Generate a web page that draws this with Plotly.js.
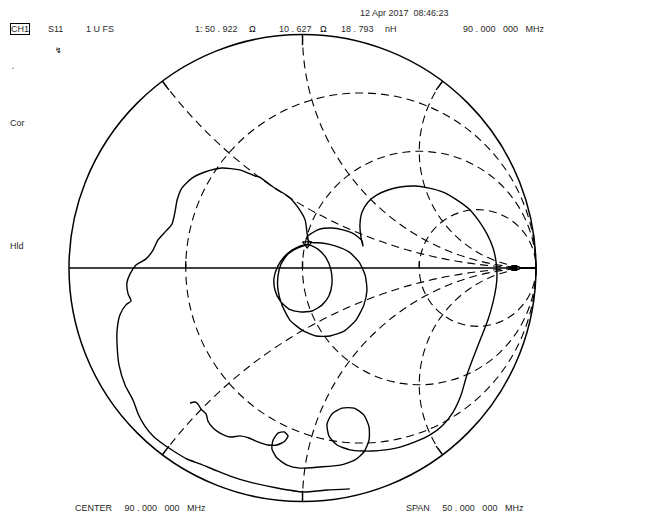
<!DOCTYPE html>
<html>
<head>
<meta charset="utf-8">
<script src="https://cdn.plot.ly/plotly-3.0.1.min.js"></script>
<style>html,body{margin:0;padding:0;background:#fff;}#chart{width:662px;height:514px;}</style>
</head>
<body>
<div id="chart"></div>
<script>
// Reflection coefficient (Gamma) readings of the S11 sweep, in chart order
var gammaRe = [0.203,0.105,0.002,-0.109,-0.225,-0.310,-0.366,-0.439,-0.495,-0.546,-0.597,-0.640,-0.675,-0.704,-0.726,-0.760,-0.786,-0.794,-0.794,-0.782,-0.756,-0.734,-0.747,-0.752,-0.739,-0.713,-0.670,-0.640,-0.619,-0.585,-0.559,-0.546,-0.537,-0.516,-0.473,-0.418,-0.345,-0.268,-0.203,-0.186,-0.126,-0.058,-0.015,0.011,0.019,0.024,
 -0.011,-0.045,-0.079,-0.105,-0.122,-0.118,-0.096,-0.058,-0.011,0.041,0.084,0.113,0.126,0.122,0.101,0.066,0.028,
 -0.019,-0.062,-0.092,-0.105,-0.105,-0.088,-0.054,-0.002,0.058,0.118,0.178,0.229,0.263,0.276,0.268,0.242,0.199,0.143,0.084,0.032,0.019,
 0.041,0.075,0.126,0.173,0.212,0.238,0.255,0.259,
 0.251,0.246,0.255,0.281,0.319,0.366,0.418,0.482,0.537,0.602,0.662,0.713,0.756,0.790,0.816,0.829,0.833,0.829,0.816,0.794,0.764,0.734,0.704,0.679,0.645,0.602,0.546,0.482,0.418,0.353,0.298,
 0.259,0.203,0.148,0.113,0.105,0.126,0.169,0.221,0.263,0.285,0.285,0.263,0.225,0.161,0.075,-0.011,-0.066,-0.109,-0.131,-0.126,-0.105,-0.079,-0.062,-0.075,-0.109,-0.148,-0.191,-0.229,-0.268,-0.310,-0.353,-0.383,-0.405,-0.413,-0.435,-0.448,-0.460,-0.482];
var gammaIm = [-0.946,-0.951,-0.959,-0.942,-0.917,-0.891,-0.869,-0.839,-0.818,-0.788,-0.754,-0.719,-0.677,-0.625,-0.565,-0.501,-0.415,-0.330,-0.266,-0.201,-0.158,-0.141,-0.111,-0.064,-0.026,0.013,0.039,0.077,0.120,0.158,0.188,0.240,0.291,0.343,0.385,0.411,0.428,0.420,0.394,0.390,0.347,0.304,0.253,0.206,0.154,0.103,
 0.094,0.077,0.047,0.009,-0.043,-0.094,-0.141,-0.176,-0.188,-0.184,-0.158,-0.120,-0.069,-0.009,0.043,0.081,0.099,
 0.086,0.060,0.017,-0.034,-0.094,-0.158,-0.223,-0.266,-0.291,-0.291,-0.270,-0.223,-0.158,-0.094,-0.030,0.026,0.069,0.094,0.107,0.111,0.133,
 0.150,0.167,0.171,0.163,0.150,0.133,0.116,0.094,
 0.128,0.184,0.240,0.283,0.313,0.334,0.347,0.351,0.343,0.325,0.291,0.253,0.201,0.146,0.086,0.026,-0.030,-0.081,-0.146,-0.223,-0.300,-0.377,-0.458,-0.544,-0.617,-0.672,-0.715,-0.745,-0.767,-0.779,-0.784,
 -0.784,-0.779,-0.758,-0.719,-0.668,-0.625,-0.600,-0.600,-0.630,-0.681,-0.737,-0.788,-0.822,-0.844,-0.852,-0.857,-0.844,-0.814,-0.775,-0.737,-0.707,-0.702,-0.719,-0.741,-0.758,-0.758,-0.745,-0.728,-0.719,-0.724,-0.707,-0.685,-0.655,-0.625,-0.604,-0.582,-0.574,-0.578];

// Marker 1 readout: 50.922 ohm + j10.627 ohm (Z0 = 50 ohm)
var z0 = 50;
var markerR = [50.922];
var markerX = [10.627];
// reference-plane marker near the right edge (Gamma)
var refGammaRe = [0.907];
var refGammaIm = [0.0];

// chart grid values
var resistanceGrid = [1/3, 1, 3];
var reactanceGrid = [-2, -1, -0.5, 0.5, 1, 2];

function toZ(gr, gi) {
  var re = [], im = [];
  for (var i = 0; i < gr.length; i++) {
    var a = 1 - gr[i], b = -gi[i];
    var d = a * a + b * b;
    var nr = 1 + gr[i], ni = gi[i];
    re.push((nr * a + ni * b) / d);
    im.push((ni * a - nr * b) / d);
  }
  return {re: re, im: im};
}

var trace = toZ(gammaRe, gammaIm);
var refm = toZ(refGammaRe, refGammaIm);

var W = 662, H = 514;
function fx(p) { return p / W; }
function fy(p) { return 1 - p / H; }

var txtFont = {family: 'Liberation Sans, Arial, sans-serif', size: 9, color: '#2a2a2a'};
function ann(text, x, y, xanchor, extra) {
  var a = {text: text, x: fx(x), y: fy(y), xref: 'paper', yref: 'paper', xanchor: xanchor || 'left', yanchor: 'middle', showarrow: false, font: txtFont};
  if (extra) for (var k in extra) a[k] = extra[k];
  return a;
}

var data = [
  {type: 'scattersmith', real: trace.re, imag: trace.im, mode: 'lines',
   line: {color: '#000', width: 1.4, shape: 'spline', smoothing: 0.6}, hoverinfo: 'skip', showlegend: false},
  {type: 'scattersmith', real: markerR.map(function (v) { return v / z0; }), imag: markerX.map(function (v) { return v / z0; }),
   mode: 'markers', marker: {symbol: 'triangle-down-open', size: 8, color: '#000', line: {width: 1.3}}, showlegend: false},
  {type: 'scattersmith', real: refm.re, imag: refm.im, mode: 'markers',
   marker: {symbol: 'square', size: 6, color: '#000'}, showlegend: false}
];

var axisCommon = {
  showticklabels: false, gridcolor: '#000', griddash: '8px,5px', gridwidth: 1.1,
  showline: true, linecolor: '#000', linewidth: 1.5, tickcolor: '#000', tickwidth: 1.4, ticklen: 8
};
var realaxis = Object.assign({}, axisCommon, {tickvals: resistanceGrid, ticks: 'top', ticklen: 6});
var imagaxis = Object.assign({}, axisCommon, {tickvals: reactanceGrid, ticks: 'inside', ticklen: 10});

var layout = {
  width: W, height: H,
  margin: {l: 0, r: 0, t: 0, b: 0},
  paper_bgcolor: '#fff',
  showlegend: false,
  smith: {
    domain: {x: [69 / W, 536 / W], y: [1 - 501.5 / H, 1 - 34.5 / H]},
    bgcolor: '#fff',
    realaxis: realaxis,
    imaginaryaxis: imagaxis
  },
  annotations: [
    ann('12 Apr 2017  08:46:23', 358, 13),
    ann('CH1', 10, 29, 'left', {bordercolor: '#000', borderwidth: 1, borderpad: 0}),
    ann('S11', 46, 29),
    ann('1 U FS', 84, 29),
    ann('1: 50 . 922', 193, 29),
    ann('Ω', 247, 29, 'left', {font: {family: txtFont.family, size: 9, color: '#000'}}),
    ann('10 . 627', 277, 29),
    ann('Ω', 318, 29, 'left', {font: {family: txtFont.family, size: 9, color: '#000'}}),
    ann('18 . 793', 339, 29),
    ann('nH', 383, 29),
    ann('90 . 000   000   MHz', 461, 29),
    ann('↯', 53, 51, 'left', {font: {family: 'DejaVu Sans', size: 8, color: '#000'}}),
    ann('•', 10, 68, 'left', {font: {family: txtFont.family, size: 5, color: '#777'}}),
    ann('Cor', 8, 123),
    ann('Hld', 8, 246),
    ann('CENTER     90 . 000   000   MHz', 73, 508),
    ann('SPAN     50 . 000   000   MHz', 404, 508)
  ]
};

Plotly.newPlot('chart', data, layout, {displayModeBar: false, staticPlot: true});
</script>
</body>
</html>
